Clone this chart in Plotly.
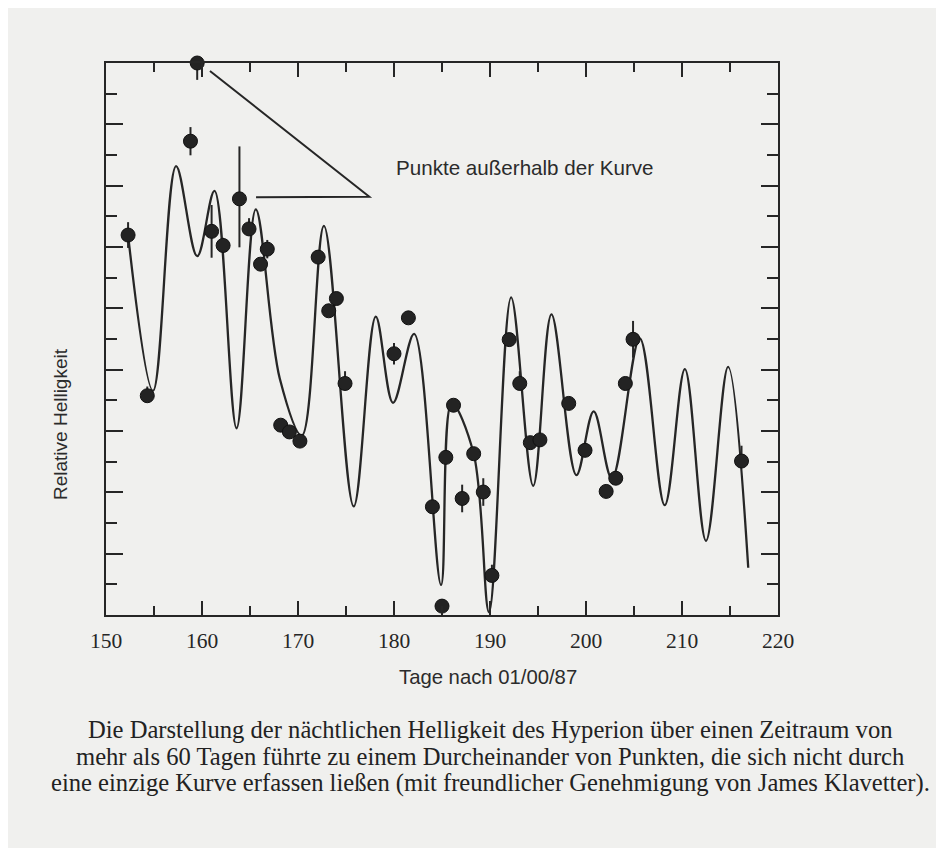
import plotly.graph_objects as go

# ---- data ----
days = [152.3, 154.3, 158.8, 159.5, 161.0, 162.2, 163.9, 164.9, 166.1, 166.8,
        168.2, 169.1, 170.2, 172.1, 173.2, 174.0, 174.9, 180.0, 181.5, 184.0,
        185.0, 185.4, 186.2, 187.1, 188.3, 189.3, 190.2, 192.0, 193.1, 194.2,
        195.2, 198.2, 199.9, 202.1, 203.1, 204.1, 204.9, 216.2]
brightness = [12.39, 7.15, 15.45, 18.0, 12.51, 12.05, 13.57, 12.59, 11.44, 11.93,
              6.19, 5.97, 5.67, 11.67, 9.92, 10.32, 7.55, 8.52, 9.69, 3.53,
              0.29, 5.14, 6.84, 3.80, 5.26, 4.01, 1.29, 8.98, 7.55, 5.62,
              5.71, 6.90, 5.37, 4.03, 4.46, 7.55, 8.99, 5.02]
err_plus = [0.42, 0.3, 0.46, 0.0, 0.86, 0.25, 1.71, 0.35, 0.0, 0.3,
            0.0, 0.0, 0.0, 0.0, 0.0, 0.0, 0.4, 0.35, 0.0, 0.0,
            0.0, 0.0, 0.0, 0.45, 0.0, 0.45, 0.35, 0.0, 0.4, 0.0,
            0.0, 0.0, 0.0, 0.0, 0.0, 0.0, 0.6, 0.5]
err_minus = [0.42, 0.0, 0.46, 0.55, 0.86, 0.25, 1.58, 0.0, 0.0, 0.3,
             0.0, 0.0, 0.0, 0.0, 0.0, 0.0, 0.0, 0.35, 0.0, 0.0,
             0.0, 0.0, 0.0, 0.45, 0.0, 0.45, 0.0, 0.0, 0.0, 0.0,
             0.0, 0.0, 0.0, 0.0, 0.0, 0.0, 0.6, 0.0]

# fitted curve knots (peaks / troughs)
curve_days = [152.3, 154.9, 157.3, 159.5, 161.3, 163.6, 165.6, 168.1, 170.4, 172.7,
              175.8, 178.1, 179.9, 182.1, 184.9, 186.0, 188.3, 189.9, 192.2, 194.5,
              196.4, 199.0, 200.8, 202.7, 205.6, 208.2, 210.3, 212.5, 214.8, 216.9]
curve_vals = [12.39, 7.31, 14.64, 11.70, 13.83, 6.09, 13.23, 7.71, 5.85, 12.69,
              3.54, 9.73, 6.92, 9.17, 0.98, 6.90, 5.26, 0.09, 10.36, 4.21,
              9.80, 4.56, 6.64, 4.45, 9.02, 3.58, 8.02, 2.42, 8.09, 1.54]

x_ticks = [150, 160, 170, 180, 190, 200, 210, 220]

caption_lines = [
    "Die Darstellung der nächtlichen Helligkeit des Hyperion über einen Zeitraum von",
    "mehr als 60 Tagen führte zu einem Durcheinander von Punkten, die sich nicht durch",
    "eine einzige Kurve erfassen ließen (mit freundlicher Genehmigung von James Klavetter).",
]

INK = "#262626"
PAPER = "#f0f0ee"

# page pixel -> paper coordinates (plot area spans page x 106..778, y 63..615)
def px(X):
    return (X - 106) / 672.0

def py(Y):
    return (615 - Y) / 552.0

fig = go.Figure()
fig.add_trace(go.Scatter(
    x=curve_days, y=curve_vals, mode="lines",
    line=dict(color=INK, width=2.3, shape="spline", smoothing=1.0),
    hoverinfo="skip", showlegend=False))
fig.add_trace(go.Scatter(
    x=days, y=brightness, mode="markers",
    marker=dict(size=14, color="#232323", line=dict(color="#111", width=1)),
    error_y=dict(type="data", symmetric=False, array=err_plus, arrayminus=err_minus,
                 width=0, thickness=2, color=INK),
    cliponaxis=False, showlegend=False))

# pointer lines for the annotation
fig.add_shape(type="path", path="M 160.83,17.74 L 177.43,13.64 L 165.63,13.62",
              line=dict(color=INK, width=2), xref="x", yref="y")

fig.add_annotation(x=px(525), y=py(168), xref="paper", yref="paper",
                   xanchor="center", yanchor="middle",
                   text="Punkte außerhalb der Kurve", showarrow=False,
                   font=dict(family="Liberation Sans", size=20.6, color="#2b2b2b"))
fig.add_annotation(x=px(60), y=py(424), xref="paper", yref="paper",
                   xanchor="center", yanchor="middle",
                   text="Relative Helligkeit", textangle=-90, showarrow=False,
                   font=dict(family="Liberation Sans", size=19, color="#2b2b2b"))
fig.add_annotation(x=px(488), y=py(677), xref="paper", yref="paper",
                   xanchor="center", yanchor="middle",
                   text="Tage nach 01/00/87", showarrow=False,
                   font=dict(family="Liberation Sans", size=20.3, color="#2b2b2b"))
for line, yc in zip(caption_lines, [729, 756, 783]):
    fig.add_annotation(x=px(490), y=py(yc), xref="paper", yref="paper",
                       xanchor="center", yanchor="middle",
                       text=line, showarrow=False,
                       font=dict(family="Liberation Serif", size=24.6, color="#222"))

fig.update_xaxes(range=[150, 220], tickvals=x_ticks, ticktext=[str(v) for v in x_ticks],
                 ticks="inside", ticklen=14, tickwidth=2, tickcolor=INK,
                 minor=dict(dtick=5, ticks="inside", ticklen=9, tickwidth=2, tickcolor=INK),
                 showline=True, linecolor=INK, linewidth=2, mirror="allticks",
                 showgrid=False, zeroline=False, ticklabelstandoff=5,
                 tickfont=dict(family="Liberation Serif", size=21.5, color="#262626"))
fig.update_yaxes(range=[0, 18], dtick=2, tick0=0, showticklabels=False,
                 ticks="inside", ticklen=17, tickwidth=2, tickcolor=INK,
                 minor=dict(dtick=1, ticks="inside", ticklen=11, tickwidth=2, tickcolor=INK),
                 showline=True, linecolor=INK, linewidth=2, mirror="allticks",
                 showgrid=False, zeroline=False)

# the page adds an 8px body margin, so margins are shifted by 8px
fig.update_layout(width=944, height=848, autosize=False,
                  margin=dict(l=98, r=174, t=55, b=241),
                  paper_bgcolor=PAPER, plot_bgcolor=PAPER,
                  showlegend=False)

fig.write_html("out.html")
